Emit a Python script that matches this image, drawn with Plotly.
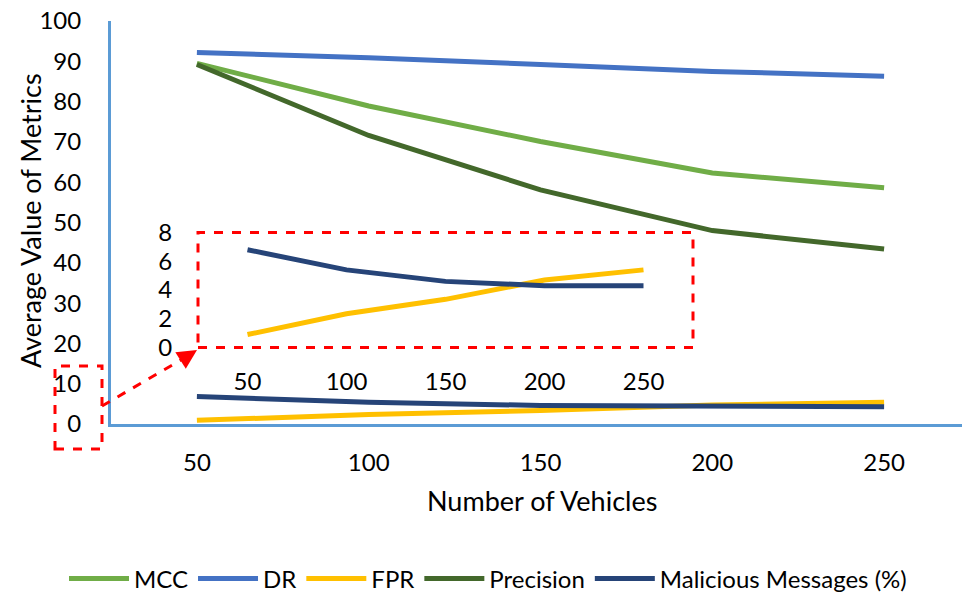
import plotly.graph_objects as go

vehicles = ["50", "100", "150", "200", "250"]
mcc = [89.5, 78.9, 70.1, 62.3, 58.6]
dr = [92.2, 90.9, 89.2, 87.5, 86.3]
fpr = [0.9, 2.35, 3.35, 4.7, 5.4]
precision = [89.2, 71.6, 58.1, 48.0, 43.4]
malicious = [6.8, 5.4, 4.6, 4.3, 4.3]

inset_yticks = [0, 2, 4, 6, 8]
main_yticks = [0, 10, 20, 30, 40, 50, 60, 70, 80, 90, 100]

colors = {
    "MCC": "#70AD47",
    "DR": "#4472C4",
    "FPR": "#FFC000",
    "Precision": "#43682B",
    "Malicious Messages (%)": "#264478",
}

FONT = "Lato"
OFF = 8  # page body margin
W, H = 970 - OFF, 594 - OFF
L, R, T, B = 111 - OFF, 0, 21 - OFF, 170
PW, PH = W - L - R, H - T - B


def px(wx):
    return (wx - OFF - L) / PW


def py(wy):
    return (H - B - (wy - OFF)) / PH


fig = go.Figure()
series = [("MCC", mcc), ("DR", dr), ("FPR", fpr), ("Precision", precision),
          ("Malicious Messages (%)", malicious)]
for name, vals in series:
    fig.add_trace(go.Scatter(x=vehicles, y=vals, mode="lines", name=name,
                             line=dict(color=colors[name], width=5),
                             xaxis="x", yaxis="y"))

for name, vals in [("FPR", fpr), ("Malicious Messages (%)", malicious)]:
    fig.add_trace(go.Scatter(x=vehicles, y=vals, mode="lines", name=name,
                             line=dict(color=colors[name], width=5),
                             xaxis="x2", yaxis="y2", showlegend=False))

axis_blue = "#5B9BD5"
inset_x0, inset_x1 = 198, 693
inset_yb, inset_yt = 347.5, 232.5
TF = 24

fig.update_layout(
    width=W, height=H,
    margin=dict(l=L, r=R, t=T, b=B, autoexpand=False),
    paper_bgcolor="white", plot_bgcolor="white",
    font=dict(family=FONT, size=TF, color="black"),
    xaxis=dict(type="category", range=[-0.5, 4.5], showgrid=False,
               showline=True, linecolor=axis_blue, linewidth=3,
               ticks="outside", ticklen=15, tickcolor="rgba(0,0,0,0)",
               tickfont=dict(size=TF), zeroline=False, domain=[0, 1],
               ticklabeloverflow="allow"),
    yaxis=dict(range=[0, 100], tickvals=main_yticks, showgrid=False,
               showline=True, linecolor=axis_blue, linewidth=3,
               ticks="outside", ticklen=22, tickcolor="rgba(0,0,0,0)",
               tickfont=dict(size=TF), zeroline=False, domain=[0, 1],
               ticklabeloverflow="allow"),
    xaxis2=dict(type="category", range=[-0.5, 4.5], showgrid=False,
                showline=False, anchor="y2",
                domain=[px(inset_x0), px(inset_x1)],
                ticks="outside", ticklen=13, tickcolor="rgba(0,0,0,0)",
                tickfont=dict(size=TF), zeroline=False),
    yaxis2=dict(range=[0, 8], tickvals=inset_yticks, showgrid=False,
                showline=False, anchor="x2",
                domain=[py(inset_yb), py(inset_yt)],
                ticks="outside", ticklen=20, tickcolor="rgba(0,0,0,0)",
                tickfont=dict(size=TF), zeroline=False),
    legend=dict(orientation="h", x=px(488), xanchor="center", y=py(579),
                yanchor="middle", font=dict(size=24), bgcolor="rgba(0,0,0,0)",
                itemwidth=60),
    showlegend=True,
)

red = "#FF0000"
fig.add_shape(type="rect", xref="paper", yref="paper",
              x0=px(inset_x0), x1=px(inset_x1), y0=py(inset_yb), y1=py(inset_yt),
              line=dict(color=red, width=3, dash="dash"), layer="above")
fig.add_shape(type="rect", xref="paper", yref="paper",
              x0=px(55), x1=px(102), y0=py(449), y1=py(366),
              line=dict(color=red, width=3, dash="dash"), layer="above")
fig.add_shape(type="line", xref="paper", yref="paper",
              x0=px(102), y0=py(406), x1=px(186), y1=py(357),
              line=dict(color=red, width=3, dash="dash"), layer="above")
fig.add_annotation(xref="paper", yref="paper", x=px(197), y=py(350),
                   ax=-11, ay=7,
                   showarrow=True, arrowhead=2, arrowsize=1.3, arrowwidth=3,
                   arrowcolor=red, text="")

fig.add_annotation(xref="paper", yref="paper", x=px(542), y=py(501),
                   text="Number of Vehicles", showarrow=False,
                   font=dict(size=27), xanchor="center", yanchor="middle")
fig.add_annotation(xref="paper", yref="paper", x=px(30), y=py(221),
                   text="Average Value of Metrics", showarrow=False, textangle=-90,
                   font=dict(size=27), xanchor="center", yanchor="middle")

fig.write_html("out.html")
